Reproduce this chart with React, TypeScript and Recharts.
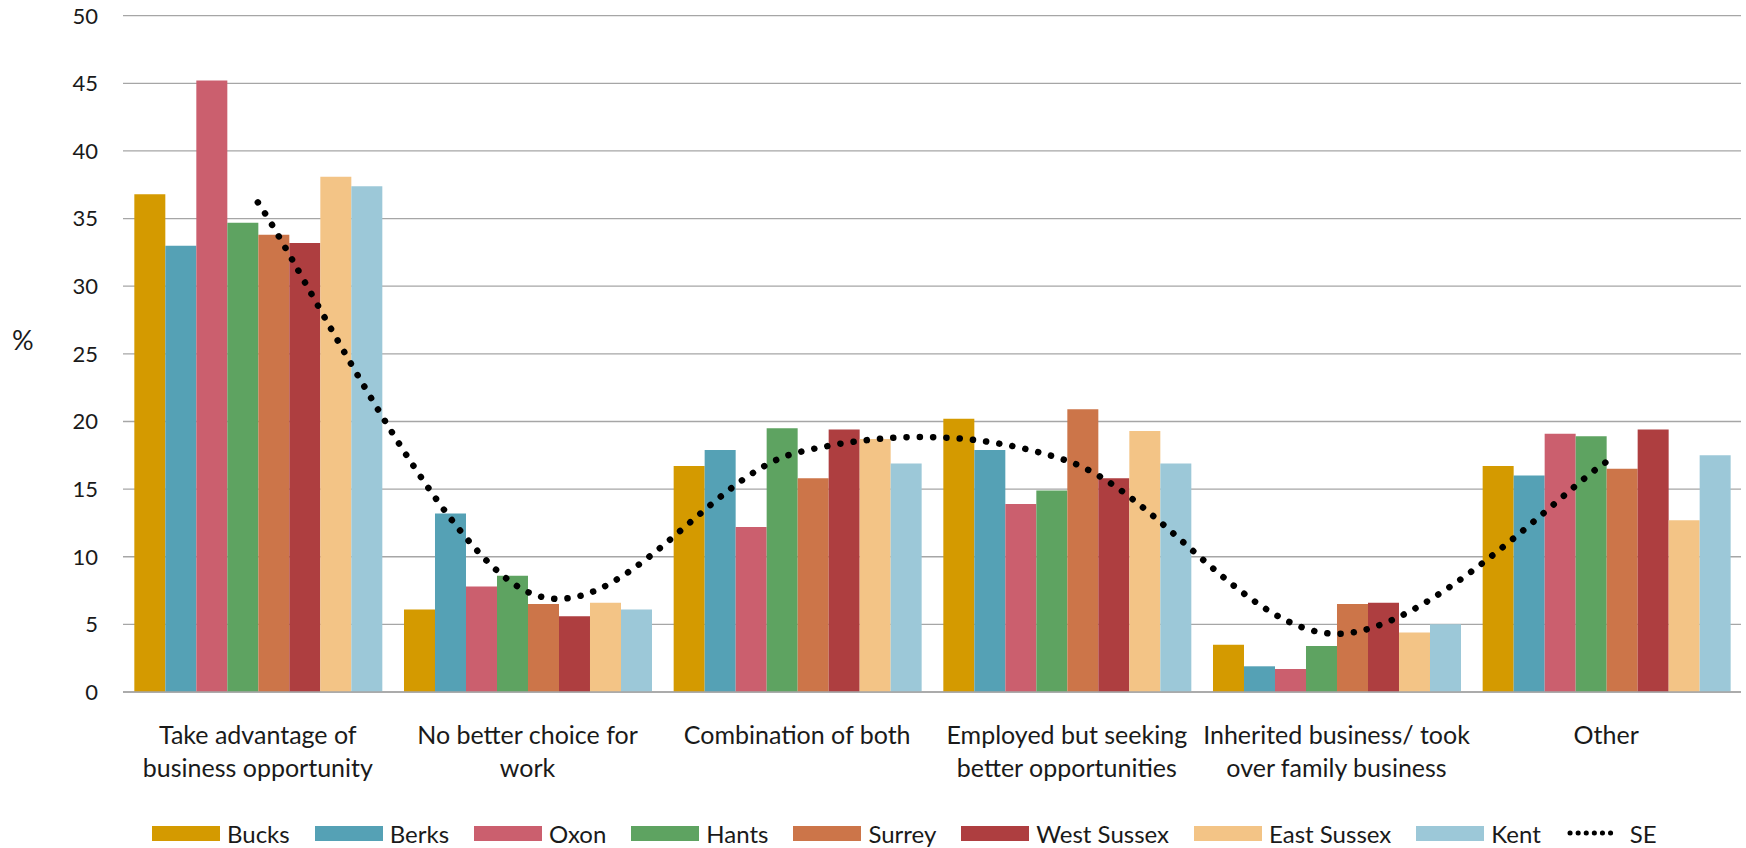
import {
  Bar,
  CartesianGrid,
  ComposedChart,
  Legend,
  Line,
  XAxis,
  YAxis,
} from 'recharts';

// Categories (line breaks as in the original axis labels)
const categories = [
  'Take advantage of\nbusiness opportunity',
  'No better choice for\nwork',
  'Combination of both',
  'Employed but seeking\nbetter opportunities',
  'Inherited business/ took\nover family business',
  'Other',
];

const bucks = [36.8, 6.1, 16.7, 20.2, 3.5, 16.7];
const berks = [33.0, 13.2, 17.9, 17.9, 1.9, 16.0];
const oxon = [45.2, 7.8, 12.2, 13.9, 1.7, 19.1];
const hants = [34.7, 8.6, 19.5, 14.9, 3.4, 18.9];
const surrey = [33.8, 6.5, 15.8, 20.9, 6.5, 16.5];
const westSussex = [33.2, 5.6, 19.4, 15.8, 6.6, 19.4];
const eastSussex = [38.1, 6.6, 18.7, 19.3, 4.4, 12.7];
const kent = [37.4, 6.1, 16.9, 16.9, 5.0, 17.5];
const se = [36.2, 7.4, 17.7, 17.1, 4.3, 17.0];

const yTicks = [0, 5, 10, 15, 20, 25, 30, 35, 40, 45, 50];

const barSeries = [
  { key: 'bucks', name: 'Bucks', color: '#D49A00', values: bucks },
  { key: 'berks', name: 'Berks', color: '#55A1B5', values: berks },
  { key: 'oxon', name: 'Oxon', color: '#CB5F6E', values: oxon },
  { key: 'hants', name: 'Hants', color: '#5EA361', values: hants },
  { key: 'surrey', name: 'Surrey', color: '#CC7549', values: surrey },
  { key: 'westSussex', name: 'West Sussex', color: '#AE3E40', values: westSussex },
  { key: 'eastSussex', name: 'East Sussex', color: '#F3C486', values: eastSussex },
  { key: 'kent', name: 'Kent', color: '#9CC8D8', values: kent },
];
const legendOrder = [...barSeries.map((s) => s.name), 'SE'];

const data = categories.map((cat, i) => {
  const row: Record<string, string | number> = { cat, se: se[i] };
  barSeries.forEach((s) => {
    row[s.key] = s.values[i];
  });
  return row;
});

const FONT = 'Lato, "Open Sans", sans-serif';
const INK = '#1a1a1a';
const GRID = '#a6a6a6';

// Excel-style smoothed line (Catmull-Rom through the points)
function excelSmooth(context: any) {
  let pts: [number, number][] = [];
  return {
    areaStart() {},
    areaEnd() {},
    lineStart() {
      pts = [];
    },
    point(x: number, y: number) {
      pts.push([+x, +y]);
    },
    lineEnd() {
      if (!pts.length) return;
      context.moveTo(pts[0][0], pts[0][1]);
      for (let i = 0; i < pts.length - 1; i++) {
        const p0 = pts[Math.max(i - 1, 0)];
        const p1 = pts[i];
        const p2 = pts[i + 1];
        const p3 = pts[Math.min(i + 2, pts.length - 1)];
        context.bezierCurveTo(
          p1[0] + (p2[0] - p0[0]) / 6,
          p1[1] + (p2[1] - p0[1]) / 6,
          p2[0] - (p3[0] - p1[0]) / 6,
          p2[1] - (p3[1] - p1[1]) / 6,
          p2[0],
          p2[1],
        );
      }
    },
  };
}

function CategoryTick({ x, y, payload }: any) {
  const lines = String(payload.value).split('\n');
  return (
    <text x={x} y={y} textAnchor="middle" fill={INK} fontSize={25} fontFamily={FONT}>
      {lines.map((l, i) => (
        <tspan key={i} x={x} dy={i === 0 ? 50 : 33}>
          {l}
        </tspan>
      ))}
    </text>
  );
}

function LegendContent({ payload }: any) {
  const items = [...(payload ?? [])].sort(
    (a: any, b: any) => legendOrder.indexOf(a.value) - legendOrder.indexOf(b.value),
  );
  return (
    <div
      style={{
        display: 'flex',
        alignItems: 'center',
        paddingLeft: 152,
        fontFamily: FONT,
        fontSize: 24,
        color: INK,
        height: 30,
      }}
    >
      {items.map((it: any) => (
        <div key={it.value} style={{ display: 'flex', alignItems: 'center', marginRight: 25 }}>
          {it.type === 'line' ? (
            <svg width={56} height={16} style={{ marginRight: 8 }}>
              <line
                x1={4}
                y1={8}
                x2={52}
                y2={8}
                stroke="#000"
                strokeWidth={5}
                strokeLinecap="round"
                strokeDasharray="0.1 8"
              />
            </svg>
          ) : (
            <div style={{ width: 68, height: 15, background: it.color, marginRight: 7 }} />
          )}
          <span>{it.value}</span>
        </div>
      ))}
    </div>
  );
}

export default function App() {
  return (
    <div style={{ width: 1746, height: 848, background: '#fff' }}>
      <style>{'body{margin:0}'}</style>
      <ComposedChart
        width={1746}
        height={848}
        data={data}
        margin={{ top: 15.7, right: 5, bottom: 0, left: 0 }}
        barCategoryGap="4.2%"
        barGap={0}
      >
        <CartesianGrid stroke={GRID} strokeWidth={1.3} vertical={false} />
        <XAxis
          dataKey="cat"
          tick={<CategoryTick />}
          tickLine={false}
          tickSize={0}
          axisLine={{ stroke: GRID, strokeWidth: 1.5 }}
          height={126}
          interval={0}
        />
        <YAxis
          domain={[0, 50]}
          ticks={yTicks}
          width={123}
          axisLine={false}
          tickLine={false}
          tickSize={0}
          tickMargin={25}
          tick={{ fontSize: 22, fill: INK, fontFamily: FONT }}
          label={{
            value: '%',
            position: 'insideLeft',
            offset: 12,
            dy: -13,
            fontSize: 27,
            fill: INK,
            fontFamily: FONT,
          }}
        />
        {barSeries.map((s) => (
          <Bar key={s.key} dataKey={s.key} name={s.name} fill={s.color} isAnimationActive={false} />
        ))}
        <Line
          dataKey="se"
          name="SE"
          type={excelSmooth as any}
          stroke="#000"
          strokeWidth={6.5}
          strokeLinecap="round"
          strokeDasharray="0.1 13.2"
          dot={false}
          activeDot={false}
          legendType="line"
          isAnimationActive={false}
        />
        <Legend verticalAlign="bottom" content={<LegendContent />} />
      </ComposedChart>
    </div>
  );
}
